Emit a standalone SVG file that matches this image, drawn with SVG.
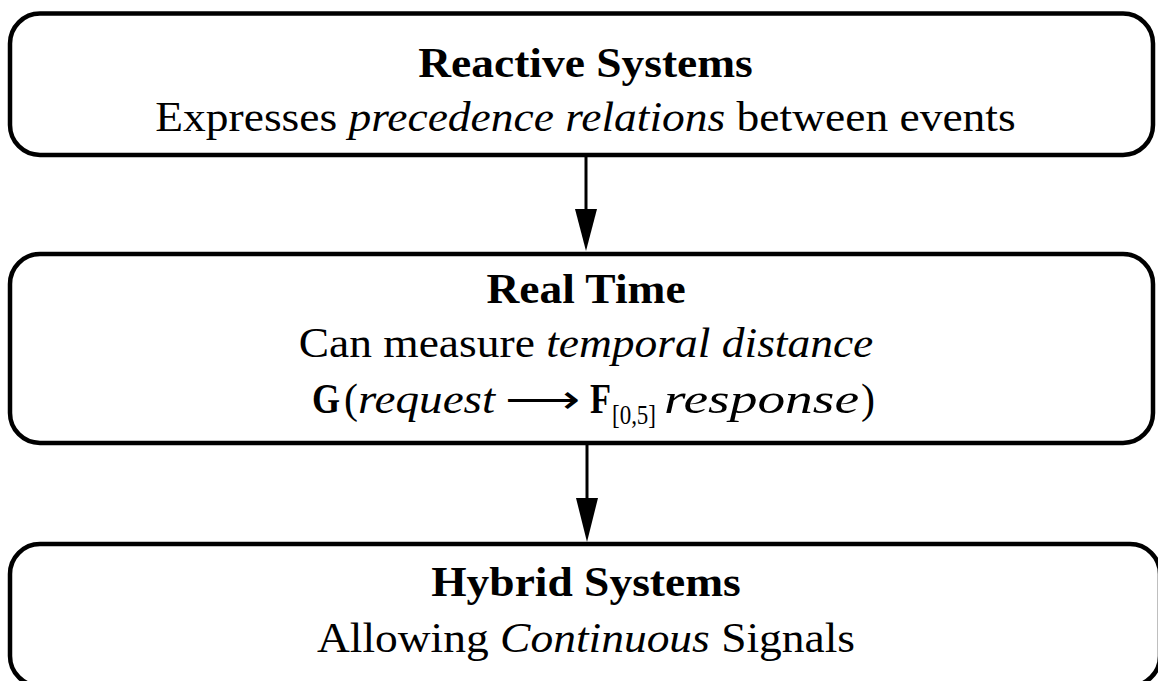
<svg xmlns="http://www.w3.org/2000/svg" width="1158" height="681" viewBox="0 0 1158 681">
<style>
.box{fill:#fff;stroke:#000;stroke-width:4.5}
.t{font-family:"Liberation Serif","Times New Roman",serif;font-size:42px;fill:#000;text-anchor:middle}
.b{font-weight:bold}
.i{font-style:italic}
.m{font-family:"Liberation Serif","Times New Roman",serif;font-size:42px;fill:#000}
.s{font-family:"Liberation Serif","Times New Roman",serif;font-size:28px;fill:#000}
.conn line{stroke:#000;stroke-width:3}
.conn polygon{fill:#000}
</style>
<rect width="1158" height="681" fill="#fff"/>
<g id="reactive">
<rect class="box" x="10" y="13.5" width="1143" height="141.5" rx="30"/>
<g transform="translate(585.5,0) scale(1.083,1)">
<text class="t b" x="0" y="77">Reactive Systems</text>
<text class="t" x="0" y="131">Expresses <tspan class="i">precedence relations</tspan> between events</text>
</g>
</g>
<g id="realtime">
<rect class="box" x="10" y="254" width="1143" height="189" rx="30"/>
<g transform="translate(586,0) scale(1.083,1)">
<text class="t b" x="0" y="303">Real Time</text>
<text class="t" x="0" y="357">Can measure <tspan class="i">temporal distance</tspan></text>
</g>
<g id="formula">
<text class="m b" x="312" y="413" textLength="28" lengthAdjust="spacingAndGlyphs">G</text>
<text class="m" x="344" y="413">(</text>
<text class="m i" x="358" y="413" textLength="137" lengthAdjust="spacingAndGlyphs">request</text>
<text class="m" x="505" y="413" textLength="75" lengthAdjust="spacingAndGlyphs">⟶</text>
<text class="m b" x="590" y="413" textLength="21" lengthAdjust="spacingAndGlyphs">F</text>
<text class="s" x="612" y="424" textLength="44" lengthAdjust="spacingAndGlyphs">[0,5]</text>
<text class="m i" x="664" y="413" textLength="195" lengthAdjust="spacingAndGlyphs">response</text>
<text class="m" x="861" y="413">)</text>
</g>
</g>
<g id="hybrid">
<rect class="box" x="10" y="544" width="1150" height="142" rx="30"/>
<g transform="translate(586,0) scale(1.083,1)">
<text class="t b" x="0" y="596">Hybrid Systems</text>
<text class="t" x="0" y="652">Allowing <tspan class="i">Continuous</tspan> Signals</text>
</g>
</g>
<g id="connectors" class="conn">
<line x1="586" y1="156" x2="586" y2="212"/>
<polygon points="575,209 597,209 586,251"/>
<line x1="587" y1="445" x2="587" y2="501"/>
<polygon points="576,498 598,498 587,542"/>
</g>
</svg>
